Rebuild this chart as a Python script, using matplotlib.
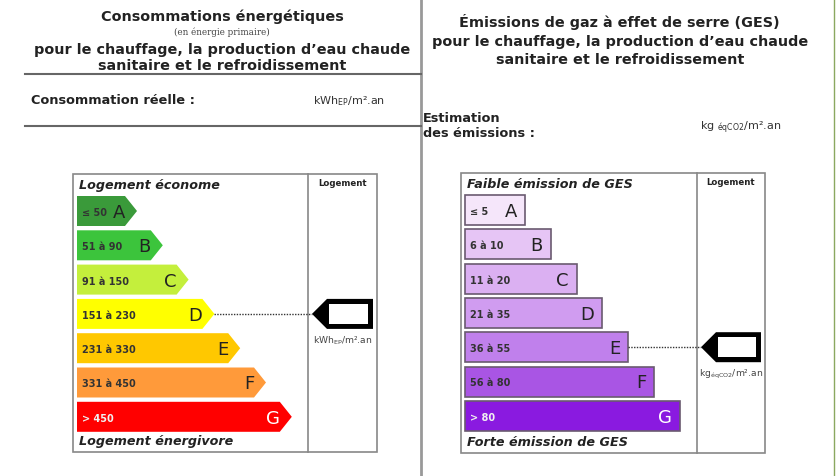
import matplotlib.pyplot as plt
from matplotlib.patches import Polygon, Rectangle

# Classes and ranges for the two labels
classes = ["A", "B", "C", "D", "E", "F", "G"]
energy_ranges = ["≤ 50", "51 à 90", "91 à 150", "151 à 230", "231 à 330", "331 à 450", "> 450"]
energy_colors = ["#3a9a3a", "#3cc43c", "#c4ef3c", "#ffff00", "#ffc800", "#ff9a3a", "#ff0000"]
ges_ranges = ["≤ 5", "6 à 10", "11 à 20", "21 à 35", "36 à 55", "56 à 80", "> 80"]
ges_colors = ["#f5e6fa", "#e6c5f5", "#dbb0f2", "#d09cf0", "#c080ec", "#a955e4", "#8a1ae0"]
energy_rating = "D"
ges_rating = "E"

plt.rcParams["font.family"] = ["DejaVu Sans"]
plt.rcParams["mathtext.default"] = "regular"

fig = plt.figure(figsize=(8.36, 4.77), dpi=100)
ax = fig.add_axes([0, 0, 1, 1])
ax.set_xlim(0, 836)
ax.set_ylim(477, 0)
ax.axis("off")

# frame lines
ax.plot([421, 421], [0, 477], color="#999999", lw=2)
ax.plot([834, 834], [0, 477], color="#8aa860", lw=1)
ax.plot([25, 421], [75, 75], color="#666666", lw=1.5)
ax.plot([25, 421], [127, 127], color="#666666", lw=1.5)

# headers - left
ax.text(222, 17, "Consommations énergétiques", ha="center", va="center",
        fontsize=10.4, fontweight="bold", color="#222222")
ax.text(222, 32, "(en énergie primaire)", ha="center", va="center",
        fontsize=6.3, family="DejaVu Serif", color="#444444")
ax.text(222, 50, "pour le chauffage, la production d’eau chaude", ha="center",
        va="center", fontsize=10.4, fontweight="bold", color="#222222")
ax.text(222, 66, "sanitaire et le refroidissement", ha="center", va="center",
        fontsize=10.4, fontweight="bold", color="#222222")
ax.text(31, 101, "Consommation réelle :", ha="left", va="center",
        fontsize=9.3, fontweight="bold", color="#222222")
ax.text(313, 101, r"kWh$_{EP}$/m².an", ha="left", va="center", fontsize=8,
        color="#333333")

# headers - right
ax.text(619, 22, "Émissions de gaz à effet de serre (GES)", ha="center",
        va="center", fontsize=10.4, fontweight="bold", color="#222222")
ax.text(620, 42, "pour le chauffage, la production d’eau chaude", ha="center",
        va="center", fontsize=10.4, fontweight="bold", color="#222222")
ax.text(620, 60, "sanitaire et le refroidissement", ha="center", va="center",
        fontsize=10.4, fontweight="bold", color="#222222")
ax.text(423, 118, "Estimation", ha="left", va="center", fontsize=9.3,
        fontweight="bold", color="#222222")
ax.text(423, 134, "des émissions :", ha="left", va="center", fontsize=9.3,
        fontweight="bold", color="#222222")
ax.text(700, 128, r"kg $_{éqCO2}$/m².an", ha="left", va="center", fontsize=8,
        color="#333333")


def draw_label(x0, x1, xdiv, y0, y1, top_txt, bottom_txt, ranges, colors,
               rating, unit, arrow_bars, bar_x, rect_edge):
    ax.add_patch(Rectangle((x0, y0), x1 - x0, y1 - y0, fill=False,
                           ec="#888888", lw=1.2))
    ax.plot([xdiv, xdiv], [y0, y1], color="#888888", lw=1.2)
    ax.text((xdiv + x1) / 2, y0 + 9, "Logement", ha="center", va="center",
            fontsize=6.2, fontweight="bold", color="#222222")
    ax.text(x0 + 6, y0 + 11, top_txt, ha="left", va="center", fontsize=9.2,
            fontweight="bold", style="italic", color="#222222")
    ax.text(x0 + 6, y1 - 11, bottom_txt, ha="left", va="center", fontsize=9.2,
            fontweight="bold", style="italic", color="#222222")

    h = 30
    for i, (cls, rng, col) in enumerate(zip(classes, ranges, colors)):
        top = y0 + 22 + i * 34.3
        right = bar_x + 60 + i * 25.8
        mid = top + h / 2
        if arrow_bars:
            body = right - 12
            pts = [(bar_x, top), (body, top), (right, mid), (body, top + h),
                   (bar_x, top + h)]
            ax.add_patch(Polygon(pts, closed=True, fc=col, ec="none"))
            letter_x = body
        else:
            ax.add_patch(Rectangle((bar_x, top), right - bar_x, h, fc=col,
                                   ec=rect_edge, lw=1.2))
            letter_x = right - 8
        txt_col = "white" if cls == "G" else "#222222"
        ax.text(bar_x + 5, mid + 1, rng, ha="left", va="center", fontsize=7,
                fontweight="bold", color="#f0f0f0" if cls == "G" else "#333333")
        ax.text(letter_x, mid + 1, cls, ha="right", va="center", fontsize=13,
                color=txt_col)

        if cls == rating:
            tip = xdiv + 4
            mtop, mbot = mid - 15, mid + 15
            ax.plot([right, tip], [mid, mid], color="#333333", lw=1,
                    ls=(0, (1, 1)))
            ax.add_patch(Polygon([(tip, mid), (tip + 15, mtop), (x1 - 4, mtop),
                                  (x1 - 4, mbot), (tip + 15, mbot)],
                                 closed=True, fc="black", ec="none"))
            ax.add_patch(Rectangle((tip + 17, mtop + 5), x1 - 4 - tip - 22, 20,
                                   fc="white", ec="none"))
            ax.text((xdiv + x1) / 2, mbot + 11, unit, ha="center", va="center",
                    fontsize=6.6, color="#444444")


draw_label(73, 377, 308, 175, 453, "Logement économe", "Logement énergivore",
           energy_ranges, energy_colors, energy_rating, r"kWh$_{EP}$/m².an",
           True, 77, None)
draw_label(461, 765, 697, 174, 454, "Faible émission de GES",
           "Forte émission de GES", ges_ranges, ges_colors, ges_rating,
           r"kg$_{éqCO2}$/m².an", False, 465, "#6a5a70")

fig.savefig("out.png", dpi=100)
